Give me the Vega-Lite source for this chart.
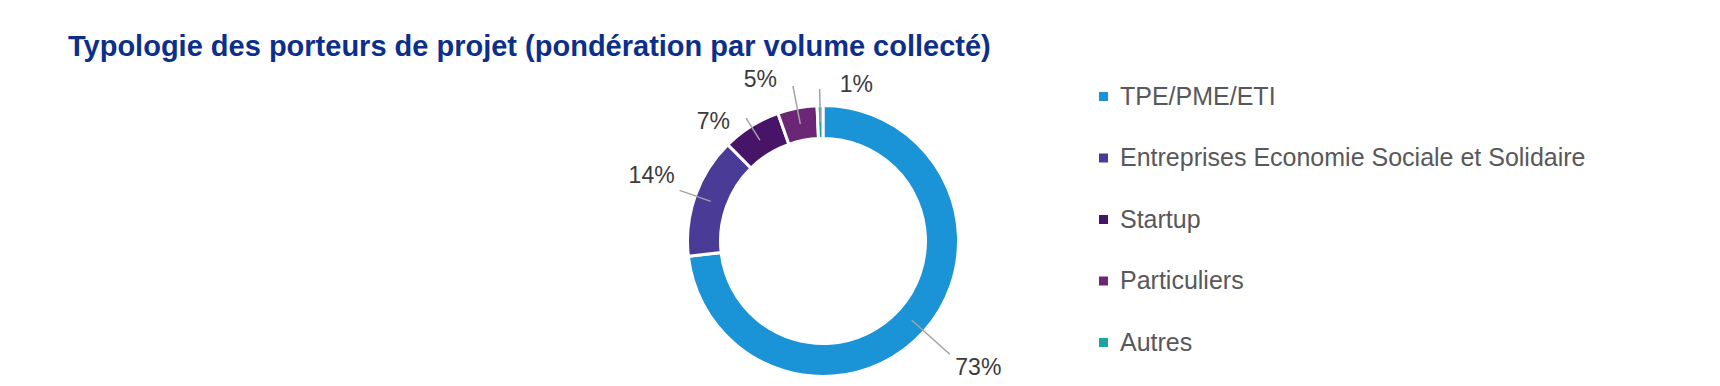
{
  "$schema": "https://vega.github.io/schema/vega-lite/v6.json",
  "width": 1646,
  "height": 290,
  "autosize": {"type": "none"},
  "padding": {"left": 0, "top": 96, "right": 74, "bottom": 0},
  "background": "white",
  "title": {
    "text": "Typologie des porteurs de projet (pondération par volume collecté)",
    "anchor": "start",
    "frame": "group",
    "dx": 68,
    "offset": -16,
    "baseline": "alphabetic",
    "font": "Liberation Sans",
    "fontSize": 29,
    "fontWeight": "bold",
    "color": "#0d2f8c"
  },
  "config": {"view": {"stroke": null}},
  "data": {
    "values": [
      {"categorie": "TPE/PME/ETI", "valeur": 73.2, "etiquette": "73%", "ordre": 1},
      {"categorie": "Entreprises Economie Sociale et Solidaire", "valeur": 14.4, "etiquette": "14%", "ordre": 2},
      {"categorie": "Startup", "valeur": 7.0, "etiquette": "7%", "ordre": 3},
      {"categorie": "Particuliers", "valeur": 4.7, "etiquette": "5%", "ordre": 4},
      {"categorie": "Autres", "valeur": 0.7, "etiquette": "1%", "ordre": 5}
    ]
  },
  "transform": [
    {"stack": "valeur", "groupby": [], "sort": [{"field": "ordre", "order": "ascending"}], "as": ["v0", "v1"]}
  ],
  "layer": [
    {
      "mark": {"type": "arc", "radius": 135.5, "radius2": 102.5, "stroke": "white", "strokeWidth": 3},
      "encoding": {
        "theta": {"field": "v0", "type": "quantitative", "stack": null, "scale": {"domain": [0, 100]}},
        "theta2": {"field": "v1"},
        "color": {
          "field": "categorie",
          "type": "nominal",
          "scale": {
            "domain": ["TPE/PME/ETI", "Entreprises Economie Sociale et Solidaire", "Startup", "Particuliers", "Autres"],
            "range": ["#1b93d7", "#4a3b96", "#471467", "#6b2775", "#1aa59d"]
          },
          "legend": {
            "orient": "none",
            "legendX": 1091,
            "legendY": -12,
            "title": null,
            "symbolType": "square",
            "symbolSize": 81,
            "symbolStrokeWidth": 0,
            "labelFontSize": 25,
            "labelFont": "Liberation Sans",
            "labelColor": "#58585a",
            "labelOffset": 4,
            "rowPadding": 35.5,
            "labelLimit": 700,
            "padding": 0
          }
        }
      }
    },
    {
      "transform": [
        {"fold": ["v0", "v1"], "as": ["bord", "angle"]},
        {"aggregate": [{"op": "mean", "field": "angle", "as": "milieu"}], "groupby": ["categorie", "etiquette", "ordre"]}
      ],
      "layer": [
        {
          "transform": [{"filter": "datum.ordre == 1"}],
          "mark": {"type": "arc", "radius": 170, "radius2": 119, "stroke": "#a3a3a3", "strokeWidth": 1.5, "fillOpacity": 0},
          "encoding": {"theta": {"field": "milieu", "type": "quantitative", "stack": null}, "theta2": {"field": "milieu"}}
        },
        {
          "transform": [{"filter": "datum.ordre == 2"}],
          "mark": {"type": "arc", "radius": 152, "radius2": 119, "stroke": "#a3a3a3", "strokeWidth": 1.5, "fillOpacity": 0},
          "encoding": {"theta": {"field": "milieu", "type": "quantitative", "stack": null}, "theta2": {"field": "milieu"}}
        },
        {
          "transform": [{"filter": "datum.ordre == 3"}],
          "mark": {"type": "arc", "radius": 145, "radius2": 119, "stroke": "#a3a3a3", "strokeWidth": 1.5, "fillOpacity": 0},
          "encoding": {"theta": {"field": "milieu", "type": "quantitative", "stack": null}, "theta2": {"field": "milieu"}}
        },
        {
          "transform": [{"filter": "datum.ordre == 4"}],
          "mark": {"type": "arc", "radius": 158, "radius2": 119, "stroke": "#a3a3a3", "strokeWidth": 1.5, "fillOpacity": 0},
          "encoding": {"theta": {"field": "milieu", "type": "quantitative", "stack": null}, "theta2": {"field": "milieu"}}
        },
        {
          "transform": [{"filter": "datum.ordre == 5"}],
          "mark": {"type": "arc", "radius": 152, "radius2": 119, "stroke": "#a3a3a3", "strokeWidth": 1.5, "fillOpacity": 0},
          "encoding": {"theta": {"field": "milieu", "type": "quantitative", "stack": null}, "theta2": {"field": "milieu"}}
        },
        {
          "transform": [{"filter": "datum.ordre == 1"}],
          "mark": {"type": "text", "radius": 172, "align": "left", "baseline": "middle", "dx": 4, "dy": 12, "font": "Liberation Sans", "fontSize": 23, "fill": "#3b3b3b"},
          "encoding": {"theta": {"field": "milieu", "type": "quantitative", "stack": null}, "text": {"field": "etiquette"}}
        },
        {
          "transform": [{"filter": "datum.ordre == 2"}],
          "mark": {"type": "text", "radius": 152, "align": "right", "baseline": "middle", "dx": -5, "dy": -14, "font": "Liberation Sans", "fontSize": 23, "fill": "#3b3b3b"},
          "encoding": {"theta": {"field": "milieu", "type": "quantitative", "stack": null}, "text": {"field": "etiquette"}}
        },
        {
          "transform": [{"filter": "datum.ordre == 3"}],
          "mark": {"type": "text", "radius": 145, "align": "right", "baseline": "middle", "dx": -16, "dy": 4, "font": "Liberation Sans", "fontSize": 23, "fill": "#3b3b3b"},
          "encoding": {"theta": {"field": "milieu", "type": "quantitative", "stack": null}, "text": {"field": "etiquette"}}
        },
        {
          "transform": [{"filter": "datum.ordre == 4"}],
          "mark": {"type": "text", "radius": 158, "align": "right", "baseline": "middle", "dx": -16, "dy": -6, "font": "Liberation Sans", "fontSize": 23, "fill": "#3b3b3b"},
          "encoding": {"theta": {"field": "milieu", "type": "quantitative", "stack": null}, "text": {"field": "etiquette"}}
        },
        {
          "transform": [{"filter": "datum.ordre == 5"}],
          "mark": {"type": "text", "radius": 152, "align": "left", "baseline": "middle", "dx": 20, "dy": -4, "font": "Liberation Sans", "fontSize": 23, "fill": "#3b3b3b"},
          "encoding": {"theta": {"field": "milieu", "type": "quantitative", "stack": null}, "text": {"field": "etiquette"}}
        }
      ]
    }
  ]
}
